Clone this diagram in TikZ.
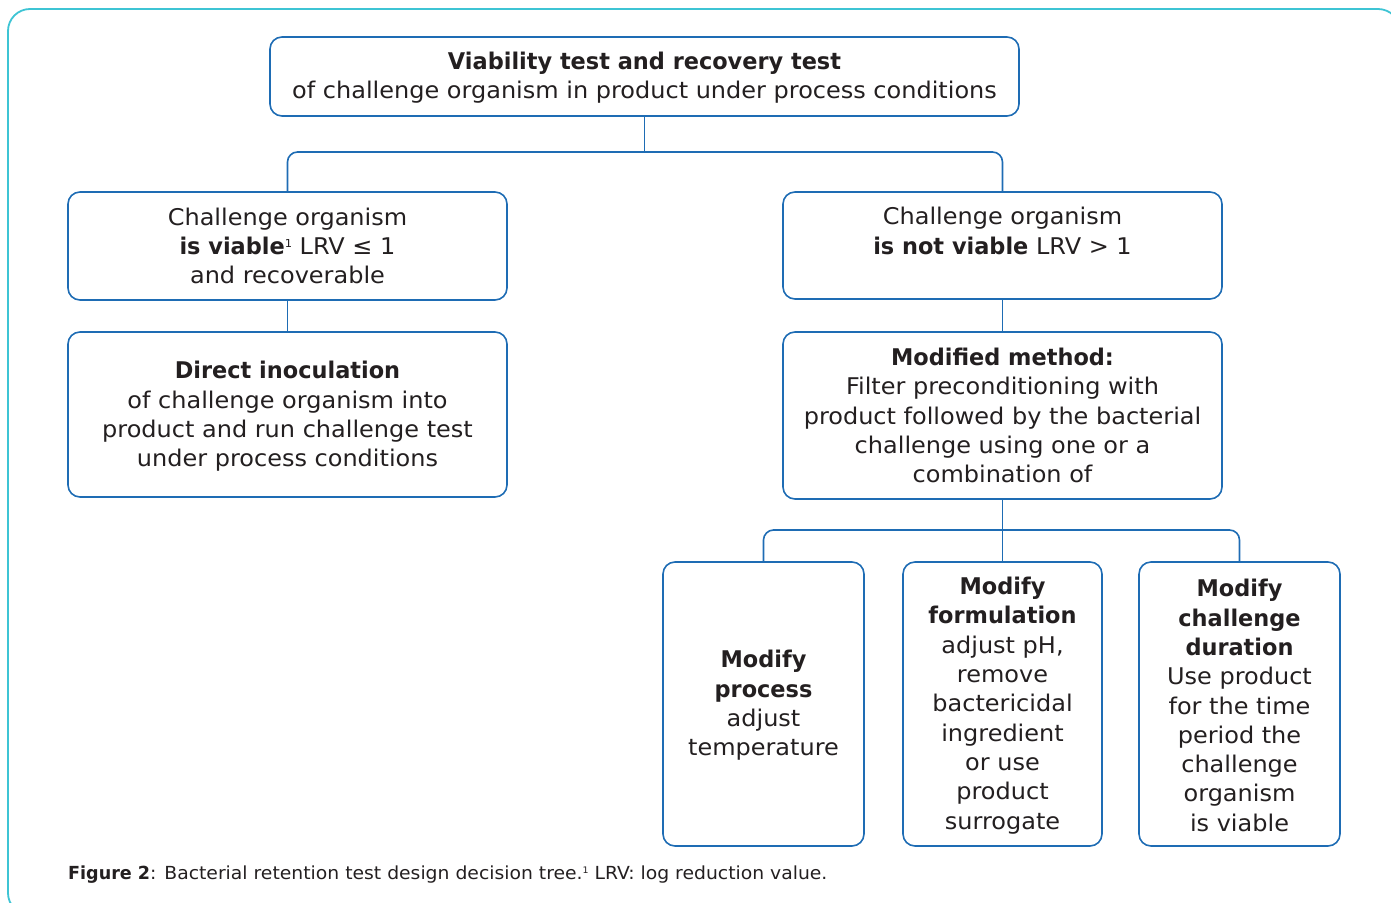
\documentclass[tikz,border=0pt]{standalone}
\usepackage{fontspec}
\setmainfont{DejaVu Sans}[UprightFeatures={FakeStretch=1.043}, BoldFeatures={FakeStretch=0.975}]
\definecolor{boxblue}{RGB}{30,108,180}
\definecolor{framecyan}{RGB}{62,196,212}
\definecolor{txt}{RGB}{35,31,32}
\tikzset{
  x=1pt, y=-1pt,
  box/.style={draw=boxblue, line width=1.6pt, rounded corners=12pt, inner sep=0pt},
  boxtext/.style={align=center, inner sep=0pt, text=txt, font=\fontsize{23}{29.3}\selectfont},
  conn/.style={draw=boxblue, line width=1.6pt, rounded corners=10pt},
}
\newcommand{\supone}{\raisebox{7pt}{\fontsize{11}{11}\selectfont 1}}
\begin{document}
\begin{tikzpicture}
\useasboundingbox (0,0) rectangle (1391,902);
\clip (0,0) rectangle (1391,902);
\draw[draw=framecyan, line width=1.8pt, rounded corners=22pt] (8,9) rectangle (1400,915);

\node[box, minimum width=749pt, minimum height=79pt] (top) at (644.5,76.5) {};
\node[boxtext] (topT) at ([yshift=-1.5pt]top.center)
  {\textbf{Viability test and recovery test}\\ of challenge organism in product under process conditions};

\node[box, minimum width=439pt, minimum height=108pt] (A) at (287.5,246) {};
\node[boxtext] (AT) at (A.center)
  {Challenge organism\\ \textbf{is viable}\supone{} LRV ≤ 1\\ and recoverable};
\node[box, minimum width=439pt, minimum height=107pt] (B) at (1002.5,245.5) {};
\node[boxtext] (BT) at (B.center)
  {Challenge organism\\ \textbf{is not viable} LRV > 1\\ \phantom{and recoverable}};

\node[box, minimum width=439pt, minimum height=165pt] (C) at (287.5,414.5) {};
\node[boxtext] (CT) at ([yshift=-2pt]C.center)
  {\textbf{Direct inoculation}\\ of challenge organism into\\ product and run challenge test\\ under process conditions};
\node[box, minimum width=439pt, minimum height=167pt] (D) at (1002.5,415.5) {};
\node[boxtext] (DT) at (D.center)
  {\textbf{Modified method:}\\ Filter preconditioning with\\ product followed by the bacterial\\ challenge using one or a\\ combination of};

\node[box, minimum width=201pt, minimum height=284pt] (E) at (763.5,704) {};
\node[boxtext] (ET) at ([yshift=-1.5pt]E.center)
  {\textbf{Modify}\\ \textbf{process}\\ adjust\\ temperature};
\node[box, minimum width=199pt, minimum height=284pt] (F) at (1002.5,704) {};
\node[boxtext] (FT) at ([yshift=-1.5pt]F.center)
  {\textbf{Modify}\\ \textbf{formulation}\\ adjust pH,\\ remove\\ bactericidal\\ ingredient\\ or use\\ product\\ surrogate};
\node[box, minimum width=201pt, minimum height=284pt] (G) at (1239.5,704) {};
\node[boxtext] (GT) at ([yshift=-1.5pt]G.center)
  {\textbf{Modify}\\ \textbf{challenge}\\ \textbf{duration}\\ Use product\\ for the time\\ period the\\ challenge\\ organism\\ is viable};

\coordinate (bus1) at (0,152);
\coordinate (bus2) at (0,530);
\draw[conn] (top.south) -- (top.south |- bus1);
\draw[conn] (A.north) -- (A.north |- bus1) -- (B.north |- bus1) -- (B.north);
\draw[conn] (A.south) -- (C.north);
\draw[conn] (B.south) -- (D.north);
\draw[conn] (D.south) -- (F.north);
\draw[conn] (E.north) -- (E.north |- bus2) -- (G.north |- bus2) -- (G.north);

\node[anchor=base west, inner sep=0pt, text=txt, font=\fontsize{18}{20}\selectfont] (cap) at (68,879)
  {\textbf{Figure 2}: Bacterial retention test design decision tree.\raisebox{6pt}{\fontsize{9}{9}\selectfont 1} LRV: log reduction value.};
\end{tikzpicture}
\end{document}
